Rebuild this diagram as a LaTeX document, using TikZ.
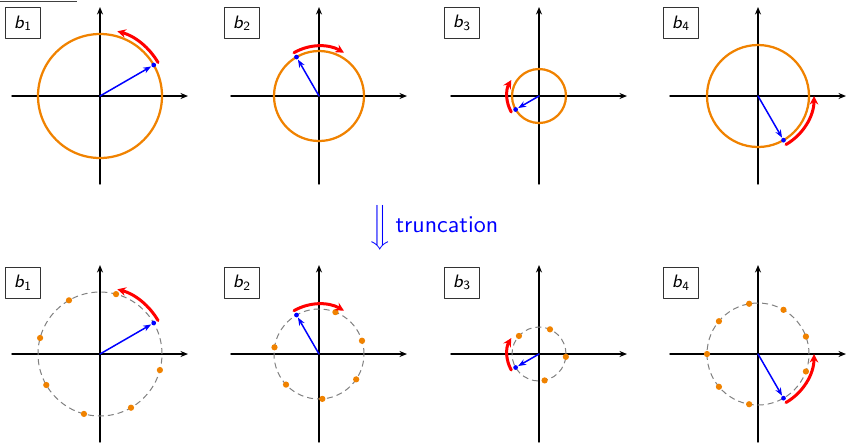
\documentclass[tikz,border=0pt]{standalone}
\usepackage{amsmath,amssymb}
\usepackage{tikz}
\usetikzlibrary{arrows.meta}
\definecolor{orng}{RGB}{240,130,0}
\newcommand{\blab}[1]{\textit{b}\textsubscript{#1}}
\tikzset{
  every picture/.style={line join=round, line cap=round, >=Stealth},
  axis/.style={black, line width=0.55pt, ->, >={Stealth[length=3pt,width=2.4pt]}},
  orbit/.style={draw=orng, line width=0.9pt},
  ghost/.style={draw=black!50, line width=0.4pt, line cap=butt, dash pattern=on 2.4pt off 1.6pt},
  turn/.style={red, line width=1.2pt, ->, >={Stealth[length=3.4pt,width=3.4pt]}},
  vec/.style={blue, line width=0.6pt, ->, >={Stealth[length=3.2pt,width=2.4pt]}},
  tip/.style={circle, fill=blue, inner sep=0pt, minimum size=1.9pt},
  sample/.style={circle, fill=orng, inner sep=0pt, minimum size=2.5pt},
  tag/.style={draw=black!80, line width=0.4pt, font=\fontsize{7.2}{8}\selectfont\sffamily,
    minimum width=14pt, minimum height=12.4pt, inner sep=0pt},
}

\begin{document}
\begin{tikzpicture}[x=0.4pt, y=0.4pt]
\useasboundingbox (0,0) rectangle (847,-442);
\draw[black!75, line width=0.4pt, line cap=butt] (0,-1.5) -- (77,-1.5);
% panel origins
\coordinate (o1) at (100,-96);
\coordinate (o2) at (319,-96);
\coordinate (o3) at (539,-96);
\coordinate (o4) at (758,-96);
\coordinate (p1) at (100,-354);
\coordinate (p2) at (319,-354);
\coordinate (p3) at (539,-354);
\coordinate (p4) at (758,-354);
\foreach \o in {o1,o2,o3,o4,p1,p2,p3,p4}{
  \draw[axis] ([shift={(-88,0)}]\o) -- ([shift={(88,0)}]\o);
  \draw[axis] ([shift={(0,-88)}]\o) -- ([shift={(0,89)}]\o);
}
% top row: continuous orbits
\draw[orbit] (o1) circle[radius=62];
\node[tip] (d1) at ([shift={(30:62)}]o1) {};
\draw[vec] (o1) -- (d1);
\draw[turn] ([shift={(30:67)}]o1) arc[start angle=30, end angle=75, radius=67];
\node[tag] (t1) at ([shift={(-77,73)}]o1) {\blab{1}};

\draw[orbit] (o2) circle[radius=45];
\node[tip] (d2) at ([shift={(120:45)}]o2) {};
\draw[vec] (o2) -- (d2);
\draw[turn] ([shift={(120:50)}]o2) arc[start angle=120, end angle=60, radius=50];
\node[tag] (t2) at ([shift={(-77,73)}]o2) {\blab{2}};

\draw[orbit] (o3) circle[radius=27];
\node[tip] (d3) at ([shift={(210:27)}]o3) {};
\draw[vec] (o3) -- (d3);
\draw[turn] ([shift={(210:32)}]o3) arc[start angle=210, end angle=150, radius=32];
\node[tag] (t3) at ([shift={(-77,73)}]o3) {\blab{3}};

\draw[orbit] (o4) circle[radius=51];
\node[tip] (d4) at ([shift={(-60:51)}]o4) {};
\draw[vec] (o4) -- (d4);
\draw[turn] ([shift={(-60:56)}]o4) arc[start angle=-60, end angle=0, radius=56];
\node[tag] (t4) at ([shift={(-77,73)}]o4) {\blab{4}};

% middle
\node[blue, inner sep=0pt] (down) at (380,-227.5) {$\Big\Downarrow$};
\node[blue, anchor=base west, inner sep=0pt, font=\fontsize{9.6}{11}\selectfont\sffamily]
  (trunc) at (395,-232) {truncation};

% bottom row: sampled points
\draw[ghost] (p1) circle[radius=62];
\foreach \k in {1,...,7}
  \node[sample] (s1-\k) at ([shift={({30+45*\k}:62)}]p1) {};
\node[tip] (e1) at ([shift={(30:62)}]p1) {};
\draw[vec] (p1) -- (e1);
\draw[turn] ([shift={(30:67)}]p1) arc[start angle=30, end angle=75, radius=67];
\node[tag] (u1) at ([shift={(-77,71.5)}]p1) {\blab{1}};

\draw[ghost] (p2) circle[radius=45];
\foreach \k in {1,...,6}
  \node[sample] (s2-\k) at ([shift={({120+360/7*\k}:45)}]p2) {};
\node[tip] (e2) at ([shift={(120:45)}]p2) {};
\draw[vec] (p2) -- (e2);
\draw[turn] ([shift={(120:50)}]p2) arc[start angle=120, end angle=60, radius=50];
\node[tag] (u2) at ([shift={(-77,71.5)}]p2) {\blab{2}};

\draw[ghost] (p3) circle[radius=27];
\foreach \k in {1,...,4}
  \node[sample] (s3-\k) at ([shift={({210+72*\k}:27)}]p3) {};
\node[tip] (e3) at ([shift={(210:27)}]p3) {};
\draw[vec] (p3) -- (e3);
\draw[turn] ([shift={(210:32)}]p3) arc[start angle=210, end angle=150, radius=32];
\node[tag] (u3) at ([shift={(-77,71.5)}]p3) {\blab{3}};

\draw[ghost] (p4) circle[radius=51];
\foreach \k in {1,...,8}
  \node[sample] (s4-\k) at ([shift={({-60+40*\k}:51)}]p4) {};
\node[tip] (e4) at ([shift={(-60:51)}]p4) {};
\draw[vec] (p4) -- (e4);
\draw[turn] ([shift={(-60:56)}]p4) arc[start angle=-60, end angle=0, radius=56];
\node[tag] (u4) at ([shift={(-77,71.5)}]p4) {\blab{4}};
\end{tikzpicture}
\end{document}
